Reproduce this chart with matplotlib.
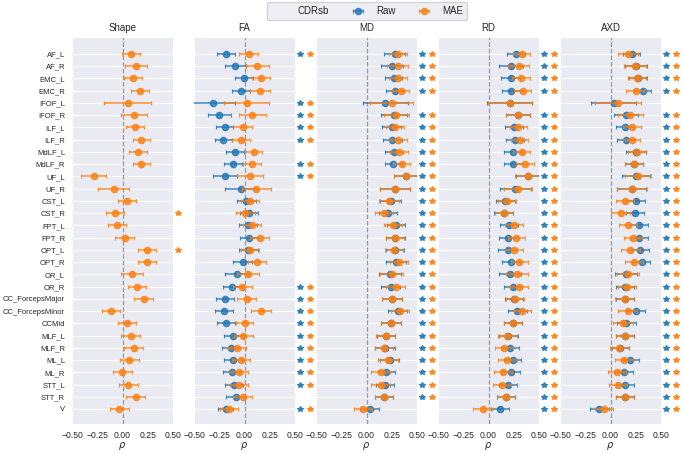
import numpy as np
import matplotlib
matplotlib.use("Agg")
import matplotlib.pyplot as plt
import seaborn as sns
from matplotlib.lines import Line2D

# ---- Data ----
tracts = ["AF_L", "AF_R", "EMC_L", "EMC_R", "IFOF_L", "IFOF_R", "ILF_L", "ILF_R",
          "MdLF_L", "MdLF_R", "UF_L", "UF_R", "CST_L", "CST_R", "FPT_L", "FPT_R",
          "OPT_L", "OPT_R", "OR_L", "OR_R", "CC_ForcepsMajor", "CC_ForcepsMinor",
          "CCMid", "MLF_L", "MLF_R", "ML_L", "ML_R", "STT_L", "STT_R", "V"]

shape_mae = [0.083, 0.135, 0.10, 0.17, 0.05, 0.115, 0.122, 0.188, 0.158, 0.188,
             -0.287, -0.089, 0.046, -0.073, -0.056, 0.02, 0.24, 0.24, 0.092, 0.145,
             0.208, -0.112, 0.043, 0.083, 0.109, 0.069, -0.003, 0.056, 0.129, -0.03]
shape_mae_err = [0.092, 0.11, 0.09, 0.088, 0.23, 0.127, 0.088, 0.088, 0.089, 0.088,
                 0.122, 0.152, 0.092, 0.091, 0.092, 0.092, 0.087, 0.087, 0.11, 0.092,
                 0.094, 0.091, 0.092, 0.094, 0.097, 0.096, 0.093, 0.094, 0.091, 0.092]
shape_mae_sig = [0, 0, 0, 0, 0, 0, 0, 0, 0, 0, 0, 0, 0, 1, 0, 0, 1, 0, 0, 0,
                 0, 0, 0, 0, 0, 0, 0, 0, 0, 0]

fa_raw = [-0.182, -0.092, -0.007, -0.036, -0.31, -0.248, -0.198, -0.208, -0.096, -0.112,
          -0.191, -0.036, 0.017, 0.043, 0.03, 0.04, 0.036, -0.017, -0.079, -0.119,
          -0.195, -0.20, -0.182, -0.109, -0.135, -0.112, -0.125, -0.106, -0.089, -0.188]
fa_raw_err = [0.089, 0.104, 0.087, 0.092, 0.22, 0.117, 0.086, 0.086, 0.092, 0.089,
              0.119, 0.155, 0.092, 0.091, 0.089, 0.089, 0.094, 0.092, 0.11, 0.092,
              0.091, 0.089, 0.087, 0.091, 0.087, 0.089, 0.086, 0.087, 0.091, 0.079]
fa_mae = [0.04, 0.125, 0.162, 0.152, 0.023, 0.079, -0.017, -0.036, 0.092, 0.076,
          0.056, 0.116, 0.056, 0.007, 0.076, 0.149, 0.053, 0.119, 0.036, -0.02,
          0.02, 0.165, 0.0, -0.01, -0.073, -0.033, -0.059, -0.053, -0.017, -0.149]
fa_mae_err = [0.096, 0.114, 0.086, 0.096, 0.223, 0.129, 0.092, 0.089, 0.084, 0.092,
              0.129, 0.142, 0.089, 0.096, 0.091, 0.091, 0.089, 0.089, 0.109, 0.091,
              0.092, 0.097, 0.089, 0.092, 0.086, 0.091, 0.091, 0.089, 0.092, 0.089]
fa_sig = [1, 0, 0, 0, 1, 1, 1, 1, 0, 1, 1, 0, 0, 0, 0, 0, 0, 0, 0, 1,
          1, 1, 1, 1, 1, 1, 1, 1, 0, 1]

md_raw = [0.281, 0.257, 0.271, 0.281, 0.185, 0.274, 0.251, 0.257, 0.271, 0.267,
          0.393, 0.284, 0.238, 0.211, 0.29, 0.287, 0.281, 0.294, 0.231, 0.241,
          0.254, 0.307, 0.244, 0.195, 0.182, 0.231, 0.198, 0.185, 0.175, 0.03]
md_raw_err = [0.104, 0.109, 0.083, 0.092, 0.224, 0.127, 0.094, 0.094, 0.092, 0.087,
              0.12, 0.148, 0.102, 0.089, 0.091, 0.096, 0.089, 0.096, 0.112, 0.094,
              0.096, 0.097, 0.096, 0.092, 0.097, 0.094, 0.089, 0.091, 0.086, 0.091]
md_mae = [0.31, 0.307, 0.31, 0.337, 0.248, 0.294, 0.284, 0.31, 0.323, 0.35,
          0.396, 0.284, 0.224, 0.172, 0.261, 0.284, 0.274, 0.32, 0.248, 0.29,
          0.257, 0.33, 0.244, 0.191, 0.172, 0.211, 0.139, 0.139, 0.175, -0.036]
md_mae_err = [0.09, 0.102, 0.089, 0.086, 0.21, 0.124, 0.091, 0.089, 0.087, 0.084,
              0.12, 0.148, 0.102, 0.092, 0.092, 0.089, 0.089, 0.092, 0.11, 0.092,
              0.099, 0.089, 0.096, 0.092, 0.092, 0.1, 0.092, 0.092, 0.086, 0.089]
md_sig = [1, 1, 1, 1, 0, 1, 1, 1, 1, 1, 1, 1, 1, 1, 1, 1, 1, 1, 1, 1,
          1, 1, 1, 1, 1, 1, 1, 1, 1, 0]

rd_raw = [0.271, 0.224, 0.218, 0.221, 0.208, 0.29, 0.257, 0.261, 0.244, 0.244,
          0.389, 0.267, 0.168, 0.149, 0.205, 0.195, 0.191, 0.221, 0.211, 0.241,
          0.257, 0.287, 0.241, 0.198, 0.215, 0.241, 0.218, 0.195, 0.175, 0.112]
rd_raw_err = [0.092, 0.116, 0.091, 0.092, 0.22, 0.12, 0.089, 0.086, 0.089, 0.089,
              0.12, 0.15, 0.097, 0.096, 0.089, 0.094, 0.092, 0.092, 0.11, 0.092,
              0.089, 0.092, 0.089, 0.091, 0.089, 0.084, 0.089, 0.091, 0.086, 0.089]
rd_mae = [0.327, 0.30, 0.32, 0.337, 0.215, 0.294, 0.297, 0.307, 0.327, 0.36,
          0.396, 0.294, 0.182, 0.155, 0.251, 0.277, 0.254, 0.304, 0.284, 0.30,
          0.261, 0.333, 0.244, 0.188, 0.152, 0.188, 0.145, 0.132, 0.175, -0.059]
rd_mae_err = [0.087, 0.104, 0.087, 0.086, 0.22, 0.12, 0.089, 0.087, 0.087, 0.086,
              0.13, 0.14, 0.092, 0.089, 0.086, 0.084, 0.087, 0.086, 0.106, 0.087,
              0.089, 0.084, 0.089, 0.092, 0.087, 0.091, 0.089, 0.091, 0.086, 0.091]
rd_sig = [1, 1, 1, 1, 0, 1, 1, 1, 1, 1, 1, 1, 1, 1, 1, 1, 1, 1, 1, 1,
          1, 1, 1, 1, 1, 1, 1, 1, 1, 1]

axd_raw = [0.208, 0.251, 0.274, 0.317, 0.03, 0.152, 0.139, 0.152, 0.254, 0.231,
           0.254, 0.208, 0.257, 0.244, 0.281, 0.287, 0.294, 0.307, 0.152, 0.145,
           0.142, 0.254, 0.158, 0.142, 0.099, 0.195, 0.132, 0.145, 0.142, -0.112]
axd_raw_err = [0.087, 0.112, 0.091, 0.086, 0.226, 0.122, 0.089, 0.091, 0.097, 0.087,
               0.139, 0.148, 0.089, 0.091, 0.087, 0.089, 0.086, 0.087, 0.112, 0.089,
               0.092, 0.089, 0.092, 0.089, 0.089, 0.087, 0.089, 0.087, 0.089, 0.094]
axd_mae = [0.175, 0.241, 0.261, 0.248, 0.073, 0.195, 0.215, 0.211, 0.264, 0.234,
           0.271, 0.211, 0.142, 0.102, 0.175, 0.218, 0.198, 0.234, 0.175, 0.165,
           0.139, 0.172, 0.119, 0.139, 0.089, 0.132, 0.066, 0.079, 0.139, -0.066]
axd_mae_err = [0.096, 0.112, 0.091, 0.091, 0.226, 0.122, 0.089, 0.084, 0.089, 0.087,
               0.129, 0.148, 0.092, 0.096, 0.089, 0.089, 0.092, 0.089, 0.11, 0.092,
               0.092, 0.094, 0.099, 0.089, 0.097, 0.089, 0.091, 0.089, 0.089, 0.089]
axd_sig = [1, 1, 1, 1, 0, 1, 1, 1, 1, 1, 1, 1, 1, 1, 1, 1, 1, 1, 1, 1,
           1, 1, 1, 1, 1, 1, 1, 1, 1, 1]

panels = [
    ("Shape", [("MAE", shape_mae, shape_mae_err, shape_mae_sig)]),
    ("FA", [("Raw", fa_raw, fa_raw_err, fa_sig), ("MAE", fa_mae, fa_mae_err, fa_sig)]),
    ("MD", [("Raw", md_raw, md_raw_err, md_sig), ("MAE", md_mae, md_mae_err, md_sig)]),
    ("RD", [("Raw", rd_raw, rd_raw_err, rd_sig), ("MAE", rd_mae, rd_mae_err, rd_sig)]),
    ("AXD", [("Raw", axd_raw, axd_raw_err, axd_sig), ("MAE", axd_mae, axd_mae_err, axd_sig)]),
]
colors = {"Raw": "#1f77b4", "MAE": "#ff7f0e"}

# ---- Plot ----
sns.set_style("darkgrid")
plt.rcParams["font.family"] = ["Liberation Sans", "DejaVu Sans"]

W, H = 683, 453
fig = plt.figure(figsize=(W / 100, H / 100), dpi=100)
top_px, bot_px = 36.7, 424.3
y = np.arange(len(tracts))
handles = {}

for i, (name, series) in enumerate(panels):
    left_px = 72 + 122 * i
    ax = fig.add_axes([left_px / W, 1 - bot_px / H, 101 / W, (bot_px - top_px) / H])
    ax.axvline(0, color="#9a9a9a", linestyle="--", linewidth=0.9, zorder=1)
    for j, (lab, vals, err, sig) in enumerate(series):
        c = colors[lab]
        eb = ax.errorbar(vals, y, xerr=err, fmt="o", color=c, ms=4.5, elinewidth=1.2,
                         capsize=1.5, capthick=0.9, alpha=0.8, zorder=3 + j)
        handles[lab] = eb
        # significance stars, outside the axes on the right
        s = np.array(sig, dtype=bool)
        ax.plot(np.full(s.sum(), 0.55 + 0.1 * j), y[s], "*", color=c, ms=3.8,
                alpha=0.85, clip_on=False, linestyle="none")
    ax.set_xlim(-0.5, 0.5)
    ax.set_xticks([-0.5, -0.25, 0, 0.25, 0.5])
    ax.set_ylim(30.25, -1.41)
    ax.set_yticks(y)
    if i == 0:
        ax.set_yticklabels(tracts)
    else:
        ax.set_yticklabels([])
    ax.xaxis.grid(False)
    ax.tick_params(axis="x", labelsize=6.2, length=0, pad=5)
    ax.tick_params(axis="y", labelsize=5.5, length=0, pad=5)
    ax.set_title(name, fontsize=7, pad=4)
    ax.set_xlabel(r"$\rho$", fontsize=7, labelpad=0)

blank = Line2D([], [], linestyle="none")
fig.legend([blank, handles["Raw"], handles["MAE"]], ["CDRsb", "Raw", "MAE"],
           loc="center", bbox_to_anchor=(366.7 / W, 1 - 11 / H), ncol=3, fontsize=7,
           frameon=True)

fig.savefig("out.png", dpi=100, facecolor="white")
plt.close()
